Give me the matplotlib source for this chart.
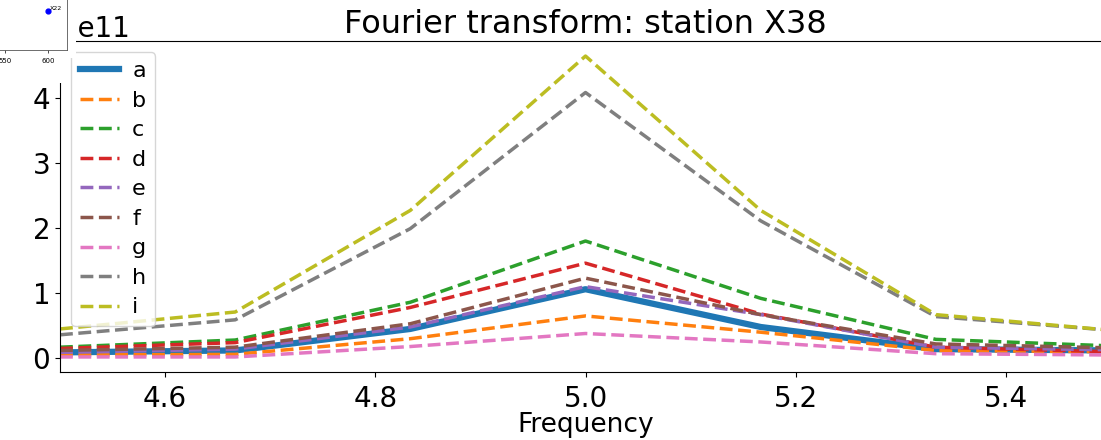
import numpy as np
import matplotlib
matplotlib.use("Agg")
import matplotlib.pyplot as plt
from matplotlib.patches import Rectangle

# frequency bins around the 5 Hz peak
freqs = [4.5, 4.6667, 4.8333, 5.0, 5.1667, 5.3333, 5.5]

# spectral amplitude per component (units of 1e11)
amp_a = [0.09, 0.12, 0.45, 1.06, 0.48, 0.14, 0.12]
amp_b = [0.05, 0.06, 0.30, 0.65, 0.40, 0.12, 0.10]
amp_c = [0.17, 0.28, 0.86, 1.80, 0.92, 0.29, 0.19]
amp_d = [0.15, 0.24, 0.78, 1.46, 0.68, 0.17, 0.10]
amp_e = [0.09, 0.14, 0.48, 1.10, 0.67, 0.17, 0.13]
amp_f = [0.12, 0.17, 0.53, 1.23, 0.67, 0.22, 0.16]
amp_g = [0.02, 0.02, 0.18, 0.38, 0.25, 0.07, 0.05]
amp_h = [0.36, 0.59, 1.99, 4.08, 2.11, 0.64, 0.43]
amp_i = [0.45, 0.71, 2.27, 4.64, 2.27, 0.67, 0.43]

labels = ["a", "b", "c", "d", "e", "f", "g", "h", "i"]
series = [amp_a, amp_b, amp_c, amp_d, amp_e, amp_f, amp_g, amp_h, amp_i]
scale = 1e11

# station location for the small map
station_name = "X22"
station_x = 600
station_y = 143
map_xticks = [550, 600]

W, H = 1101, 440
fig = plt.figure(figsize=(W / 100, H / 100), dpi=100)

ax = fig.add_axes([60 / W, (H - 372) / H, 1051 / W, 331 / H])
for lab, amp in zip(labels, series):
    y = np.array(amp) * scale
    if lab == "a":
        ax.plot(freqs, y, "-", lw=4.5, label=lab)
    else:
        ax.plot(freqs, y, "--", lw=2.5, label=lab)

ax.set_xlim(4.5, 5.5)
ax.set_xticks([4.6, 4.8, 5.0, 5.2, 5.4])
ax.set_yticks(np.arange(0, 5) * scale)
ax.tick_params(labelsize=20)
ax.tick_params(axis="x", pad=6)
ax.yaxis.get_offset_text().set_fontsize(20)
ax.set_xlabel("Frequency", fontsize=19, labelpad=-1)
ax.set_title("Fourier transform: station X38", fontsize=23)
ax.legend(loc="upper left", fontsize=16, labelspacing=0.43, handlelength=1.75,
          handletextpad=0.6)

# white backing behind the location map
fig.patches.append(Rectangle((0, (H - 58) / H), 76 / W, 58 / H, transform=fig.transFigure,
                             facecolor="white", edgecolor="none", zorder=1))
fig.patches.append(Rectangle((0, (H - 83) / H), 66 / W, 83 / H, transform=fig.transFigure,
                             facecolor="white", edgecolor="none", zorder=1))

# small map of the station
inset = fig.add_axes([-40 / W, (H - 50) / H, 107 / W, 90 / H], zorder=2)
inset.scatter([station_x], [station_y], s=12, color="blue")
inset.text(station_x + 2, station_y + 2, station_name, fontsize=4.5)
inset.set_xlim(497.7, 622)
inset.set_ylim(100, 200)
inset.set_xticks(map_xticks)
inset.set_yticks([])
inset.tick_params(labelsize=5, length=2, width=0.5)
for sp in inset.spines.values():
    sp.set_linewidth(0.6)
    sp.set_color("#555555")

fig.savefig("out.png", dpi=100)
